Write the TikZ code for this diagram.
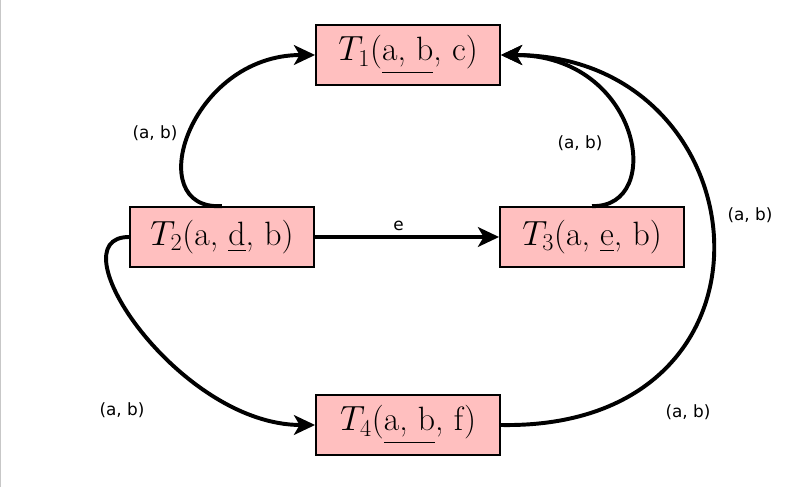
\documentclass[tikz,border=0pt]{standalone}
\usepackage{amsmath}
\usepackage{amssymb}
\usepackage{fontspec}
\newfontfamily\labelfont{DejaVu Sans}
\usepackage{tikz}
\usetikzlibrary{arrows.meta}

\tikzset{
	tbl/.style={draw,line width=1.3pt,fill=red!25,minimum width=4.6cm,minimum height=1.5cm,inner sep=0pt,font=\fontsize{24}{28}\selectfont},
	lbl/.style={font=\labelfont\fontsize{12}{14}\selectfont,inner sep=1pt},
	link/.style={line width=2.8pt,-{Stealth[length=15pt,width=14pt,inset=4pt]}}
}

\begin{document}
\begin{tikzpicture}
			\useasboundingbox (0,0) rectangle (20,12.175);
			\draw[black!22,line width=0.9pt] (0.02,0) -- (0.02,12.175);
			\node[tbl] (t1) at (10.2,10.8) {$T_1$(\underline{a, b}, c)};
			\node[tbl] (t2) at (5.55,6.25) {$T_2$(a, \underline{d}, b)};
			\node[tbl] (t3) at (14.8,6.25) {$T_3$(a, \underline{e}, b)};
			\node[tbl] (t4) at (10.2,1.55) {$T_4$(\underline{a, b}, f)};
			\draw[link] (t2.north) .. controls +(-2.05,-0.125) and +(-3.15,0) .. (t1.west);
			\draw[link] (t3.north) .. controls +(1.85,-0.05) and +(3.5,0) .. (t1.east);
			\draw[link] (t4.east) .. controls +(7.5,-0.125) and +(6.6,0) .. (t1.east);
			\draw[link] (t2.west) .. controls +(-1.9,0) and +(-3.4,0) .. (t4.west);
			\draw[link] (t2.east) -- (t3.west) node[midway,above,lbl,yshift=2pt,xshift=-6pt] {e};
			\node[lbl] (l21) at (3.875,8.85) {(a, b)};
			\node[lbl] (l31) at (14.5,8.6) {(a, b)};
			\node[lbl] (l41) at (18.75,6.8) {(a, b)};
			\node[lbl] (l24) at (3.05,1.925) {(a, b)};
			\node[lbl] (l41b) at (17.2,1.875) {(a, b)};
		\end{tikzpicture}
\end{document}
